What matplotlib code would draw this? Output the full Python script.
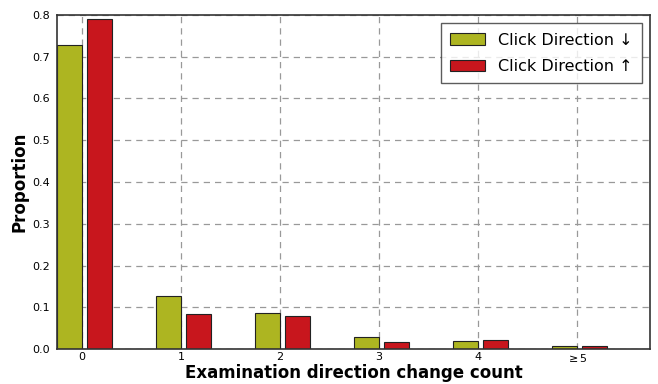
import numpy as np
import matplotlib.pyplot as plt


counts = ["0", "1", "2", "3", "4", r"$\geq$5"]
click_down = [0.727, 0.128, 0.086, 0.030, 0.019, 0.007]
click_up = [0.790, 0.084, 0.080, 0.018, 0.022, 0.008]

GREEN = "#adb521"
RED = "#c8161d"


def main():
    fig = plt.figure(figsize=(6.58, 3.84), dpi=100)
    ax = fig.add_axes([0.087, 0.091, 0.901, 0.87])

    ind = np.arange(len(counts))
    width = 0.25
    ax.bar(ind - width, click_down, width, align="edge", color=GREEN,
           edgecolor="#222222", linewidth=0.8, label="Click Direction \u2193")
    ax.bar(ind + 0.05, click_up, width, align="edge", color=RED,
           edgecolor="#222222", linewidth=0.8, label="Click Direction \u2191")

    ax.set_xlim(-0.25, 5.74)
    ax.set_ylim(0, 0.8)
    ax.set_xticks(ind)
    ax.set_xticklabels(counts)
    ax.set_yticks(np.arange(0, 0.81, 0.1))
    ax.tick_params(labelsize=8, direction="in", length=0)
    ax.tick_params(axis="x", pad=2)
    ax.tick_params(axis="y", pad=5)

    ax.grid(True, linestyle=(0, (5, 4)), color="#999999", linewidth=0.9)
    ax.set_axisbelow(True)
    for sp in ax.spines.values():
        sp.set_linewidth(1.2)
        sp.set_color("#333333")

    ax.set_xlabel("Examination direction change count", fontsize=12,
                  fontweight="bold", labelpad=0)
    ax.set_ylabel("Proportion", fontsize=12, fontweight="bold", labelpad=3)

    leg = ax.legend(loc="upper right", fontsize=11.5, fancybox=False,
                    handlelength=2.2, borderpad=0.6, labelspacing=0.7,
                    borderaxespad=0, bbox_to_anchor=(0.9865, 0.976))
    leg.get_frame().set_edgecolor("#333333")
    leg.get_frame().set_linewidth(1.0)

    fig.savefig("out.png", dpi=100)
    plt.close(fig)


if __name__ == "__main__":
    main()
